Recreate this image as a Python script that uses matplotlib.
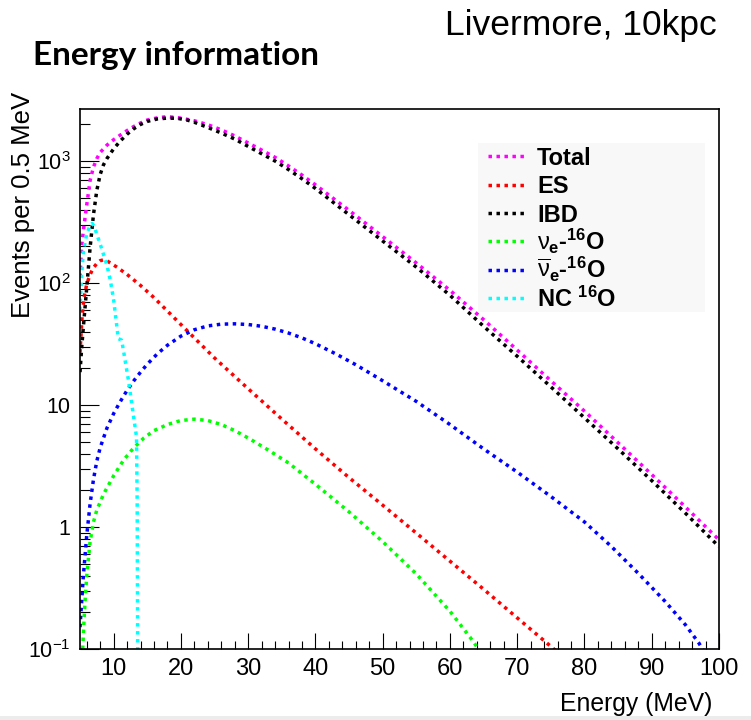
import matplotlib
matplotlib.use('Agg')
from matplotlib import pyplot as plt
from matplotlib.ticker import LogLocator, MultipleLocator, NullFormatter
from matplotlib.lines import Line2D
from matplotlib.patches import Rectangle

# energies (MeV) and events per 0.5 MeV
total_e = [5.0, 5.25, 5.5, 6.0, 6.5, 7.0, 7.5, 8.0, 9.0, 10.0, 11.0, 12.0, 13.0, 14.0, 15.0, 16.5,
           18.0, 20.0, 22.0, 24.0, 26.0, 28.0, 30.0, 32.0, 34.0, 36.0, 38.0, 40.0, 45.0, 50.0,
           55.0, 60.0, 65.0, 70.0, 75.0, 80.0, 85.0, 90.0, 95.0, 100.0]
total_n = [112, 200, 269, 437, 692, 891, 1047, 1175, 1349, 1496, 1633, 1778, 1919, 2051, 2168, 2259,
           2312, 2249, 2138, 1986, 1803, 1607, 1406, 1230, 1072, 912, 767, 638, 394, 240,
           146, 87.1, 50.1, 28.2, 15.8, 8.91, 4.90, 2.69, 1.46, 0.785]

es_e = [5.0, 5.3, 5.6, 6.0, 6.5, 7.0, 7.5, 8.0, 8.5, 9.0, 9.5, 10.5, 12.0, 14.0, 16.0, 18.0,
        20.0, 22.0, 25.0, 30.0, 35.0, 40.0, 45.0, 50.0, 55.0, 60.0, 65.0, 70.0, 75.0, 76.5]
es_n = [26.9, 52.5, 75.9, 97.7, 117.5, 133.4, 144.5, 152.4, 154.9, 152.1, 146.2, 134.9, 117.5, 95.5,
        75.9, 58.9, 45.7, 35.5, 24.3, 13.6, 7.67, 4.37, 2.54, 1.51, 0.891, 0.525, 0.309, 0.180,
        0.105, 0.089]

ibd_e = [5.0, 5.25, 5.5, 6.0, 6.5, 7.0, 7.5, 8.0, 8.5, 9.0, 10.0, 11.0, 12.0, 13.0, 14.0, 15.0,
         16.5, 18.0, 19.5, 21.0, 22.0, 24.0, 26.0, 28.0, 30.0, 32.0, 34.0, 36.0, 38.0, 40.0,
         45.0, 50.0, 55.0, 60.0, 65.0, 70.0, 75.0, 80.0, 85.0, 90.0, 95.0, 100.0]
ibd_n = [18.6, 29.5, 43.7, 91.2, 195, 363, 575, 776, 933, 1047, 1259, 1462, 1660, 1841, 1995, 2113,
         2213, 2249, 2239, 2163, 2080, 1884, 1698, 1514, 1318, 1148, 1000, 851, 716, 596,
         363, 221, 135, 79.4, 44.2, 25.1, 14.1, 7.85, 4.37, 2.40, 1.30, 0.69]

nue_e = [5.4, 5.6, 5.8, 6.0, 6.5, 7.0, 7.5, 8.5, 10.0, 11.5, 13.0, 14.5, 16.0, 18.0, 20.0, 22.0,
         24.0, 26.0, 28.0, 30.0, 33.0, 36.0, 40.0, 45.0, 50.0, 55.0, 60.0, 63.0, 64.5]
nue_n = [0.1, 0.174, 0.275, 0.398, 0.759, 1.096, 1.38, 1.86, 2.63, 3.55, 4.47, 5.37, 6.17, 6.92,
         7.46, 7.66, 7.46, 6.92, 6.17, 5.37, 4.27, 3.35, 2.24, 1.33, 0.759, 0.412, 0.204, 0.1245,
         0.0955]

nuebar_e = [5.0, 5.5, 6.0, 6.5, 7.0, 7.5, 8.0, 9.0, 10.0, 11.0, 12.0, 13.0, 14.0, 15.0, 16.5, 18.0,
            20.0, 22.0, 24.0, 26.0, 28.0, 30.0, 32.0, 34.0, 36.0, 38.0, 40.0, 43.0, 46.0, 50.0,
            55.0, 60.0, 65.0, 70.0, 75.0, 80.0, 84.0, 88.0, 92.0, 95.0, 97.0, 98.0]
nuebar_n = [0.151, 0.398, 0.851, 1.55, 2.45, 3.47, 4.47, 6.46, 8.51, 10.7, 13.2, 15.8, 18.6, 21.6,
            26.3, 30.9, 36.7, 41.4, 44.5, 46.0, 46.3, 45.7, 44.2, 41.9, 38.9, 35.5, 31.8, 26.3,
            21.4, 15.8, 10.7, 6.92, 4.37, 2.82, 1.78, 1.10, 0.692, 0.417, 0.245, 0.158, 0.112, 0.091]

nc_e = [5.0, 5.25, 5.5, 6.0, 6.5, 6.8, 7.1, 7.5, 8.2, 9.0, 9.5, 10.0, 10.7, 11.2, 12.2, 12.9,
        13.4, 13.5, 13.6]
nc_n = [60, 120, 180, 255, 295, 308, 292, 251, 193, 140, 106, 73, 35, 34, 16, 8.5,
        5.5, 1.6, 0.05]

series = [
    (total_e, total_n, '#ff00ff', 'Total'),
    (es_e, es_n, '#ff0000', 'ES'),
    (ibd_e, ibd_n, '#000000', 'IBD'),
    (nue_e, nue_n, '#00ff00', r'$\nu_{\mathbf{e}}$-$^{\mathbf{16}}$O'),
    (nuebar_e, nuebar_n, '#0000ff', r'$\overline{\nu}_{\mathbf{e}}$-$^{\mathbf{16}}$O'),
    (nc_e, nc_n, '#00ffff', r'NC $^{\mathbf{16}}$O'),
]

plt.rcParams['font.family'] = ['Liberation Sans', 'DejaVu Sans']
plt.rcParams['mathtext.fontset'] = 'custom'
plt.rcParams['mathtext.rm'] = 'Liberation Sans'
plt.rcParams['mathtext.it'] = 'Liberation Sans'
plt.rcParams['mathtext.bf'] = 'Liberation Sans:bold'

W, H = 751, 720
fig = plt.figure(figsize=(W / 100, H / 100), dpi=100)
ax = fig.add_axes([80 / W, 1 - 649 / H, 639 / W, 540 / H])

dots = (0, (1, 1.3))
lw = 2.5
for xs, ys, col, lab in series:
    ax.plot(xs, ys, color=col, lw=lw, ls=dots, dash_capstyle='butt')

ax.set_yscale('log')
ax.set_xlim(5, 100)
ax.set_ylim(0.1, 2670)

ax.set_xticks(range(10, 101, 10))
ax.xaxis.set_minor_locator(MultipleLocator(2))
ax.set_yticks([0.1, 1, 10, 100, 1000])
ax.set_yticklabels([r'$10^{-1}$', '1', '10', r'$10^{2}$', r'$10^{3}$'])
ax.yaxis.set_minor_locator(LogLocator(base=10, subs=range(2, 10)))
ax.yaxis.set_minor_formatter(NullFormatter())

ax.tick_params(which='both', direction='in', top=False, right=False, width=0.8)
ax.tick_params(axis='x', which='major', length=11.5, pad=6.5, labelsize=17)
ax.tick_params(axis='x', which='minor', length=6)
ax.tick_params(axis='y', which='major', length=14, pad=7, labelsize=15.5)
ax.tick_params(axis='y', which='minor', length=7)
for sp in ax.spines.values():
    sp.set_linewidth(1.2)

# legend drawn by hand, ROOT style
fig.add_artist(Rectangle((478 / W, 1 - 312 / H), 227 / W, 169 / H, transform=fig.transFigure,
                         facecolor='#f8f8f8', edgecolor='none', zorder=5))
for i, (xs, ys, col, lab) in enumerate(series):
    yc = 156.3 + 28.3 * i
    fig.add_artist(Line2D([488 / W, 527 / W], [1 - yc / H, 1 - yc / H], transform=fig.transFigure,
                          color=col, lw=lw, ls=dots, dash_capstyle='butt', zorder=6))
    fig.text(537 / W, 1 - (yc + 8.8) / H, lab, fontsize=17, fontweight='bold',
             ha='left', va='baseline', zorder=7)

fig.text(712 / W, 1 - 704 / H, 'Energy (MeV)', fontsize=17.8, ha='right', va='center')
fig.text(23 / W, 1 - 92 / H, 'Events per 0.5 MeV', fontsize=18.5, rotation=90, ha='center', va='top')

fig.text(33 / W, 1 - 55 / H, 'Energy information', family='Lato', fontweight='bold',
         fontsize=24, ha='left', va='center')
fig.text(717 / W, 1 - 25 / H, 'Livermore, 10kpc', fontsize=25.5, ha='right', va='center')

fig.add_artist(Rectangle((0, 0), 1, 4 / H, transform=fig.transFigure,
                         facecolor='#ececec', edgecolor='none'))

fig.savefig('out.png', dpi=100)
